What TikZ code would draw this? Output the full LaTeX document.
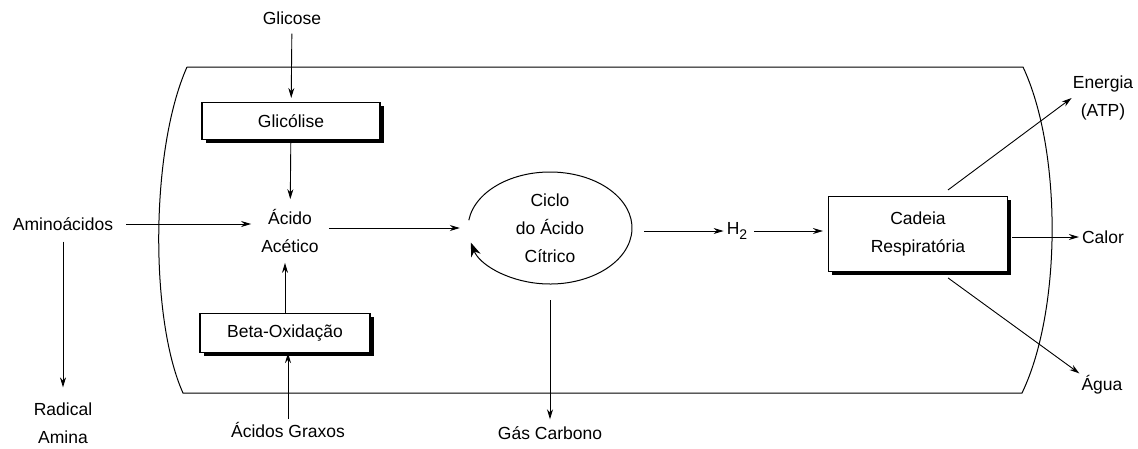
\documentclass[tikz,border=0pt]{standalone}
\usepackage{fontspec}
\setmainfont{Liberation Sans}
\usetikzlibrary{arrows.meta,shapes.geometric,shadows,calc}
\begin{document}
\begin{tikzpicture}[x=1pt,y=-1pt,
  font=\fontsize{17.5}{28}\selectfont,
  every node/.style={inner sep=3pt},
  arr/.style={line width=0.9pt,-{Stealth[length=10pt,width=6pt]}},
  procbox/.style={draw,line width=1.1pt,fill=white,minimum height=37pt,
    drop shadow={shadow xshift=3.5pt,shadow yshift=-3.5pt,fill=black,opacity=1}},
  lbl/.style={align=center}]
\useasboundingbox (0,0) rectangle (1138,448);
% cell outline
\draw[line width=1pt] (187,67) -- (1023,67) .. controls (1062,150) and (1062,310) .. (1022,393)
  -- (183,393) .. controls (150,320) and (150,150) .. (187,67);
% nodes
\node (glicose) at (292,18) {Glicose};
\node[procbox,minimum width=178pt] (glic) at (291,121) {Glicólise};
\node[lbl,inner sep=10pt] (acet) at (290,231) {Ácido\\Acético};
\node (amino) at (63,224) {Aminoácidos};
\node[lbl] (radical) at (63,423) {Radical\\Amina};
\node[procbox,minimum width=170pt,minimum height=39pt] (beta) at (285,333) {Beta-Oxidação};
\node (graxos) at (288,430) {Ácidos Graxos};
\node[ellipse,inner sep=0pt,minimum width=164pt,minimum height=112pt,lbl] (cycle) at (550,228) {Ciclo\\do Ácido\\Cítrico};
\node (h2) at (737,231) {H\raisebox{-5pt}{\fontsize{14}{14}\selectfont 2}};
\node[procbox,minimum width=179pt,minimum height=75pt,lbl] (cadeia) at (918,234) {Cadeia\\Respiratória};
\node[lbl,inner sep=1pt] (energia) at (1103,98) {Energia\\(ATP)};
\node (calor) at (1103,237) {Calor};
\node[inner sep=2pt] (agua) at (1102,385) {Água};
\node (gas) at (550,433) {Gás Carbono};
% connectors
\draw[arr,shorten <=6pt,shorten >=4pt] (glicose) -- (glic);
\draw[arr] (glic) -- (acet);
\draw[arr,shorten <=10pt] (amino.east) -- (amino.east -| acet.west);
\draw[arr,shorten <=8pt,shorten >=12pt] (amino) -- (radical);
\draw[arr] (beta.north) -- (beta.north |- acet.south);
\draw[arr] (graxos.north) -- (graxos.north |- beta.south);
\draw[arr,shorten >=8pt] (acet.east |- cycle.west) -- (cycle.west);
\draw[line width=1pt,-{Stealth[length=14pt,width=10pt]}] (cycle.center) ++(172:82pt and 56pt)
  arc[start angle=172,end angle=-165,x radius=82pt,y radius=56pt];
\draw[arr,shorten <=12pt] (cycle.east |- h2.west) -- (h2.west);
\draw[arr,shorten <=4pt,shorten >=5pt] (h2.east) -- (h2.east -| cadeia.west);
\draw[arr,shorten <=4pt] (cadeia.east |- calor.west) -- (calor.west);
\draw[arr,shorten <=10pt] (cadeia.60) -- (energia.west);
\draw[arr,shorten <=10pt] (cadeia.-60) -- (agua.north west);
\draw[arr,shorten <=16pt,shorten >=4pt] (cycle.south) -- (gas.north);
\end{tikzpicture}
\end{document}
